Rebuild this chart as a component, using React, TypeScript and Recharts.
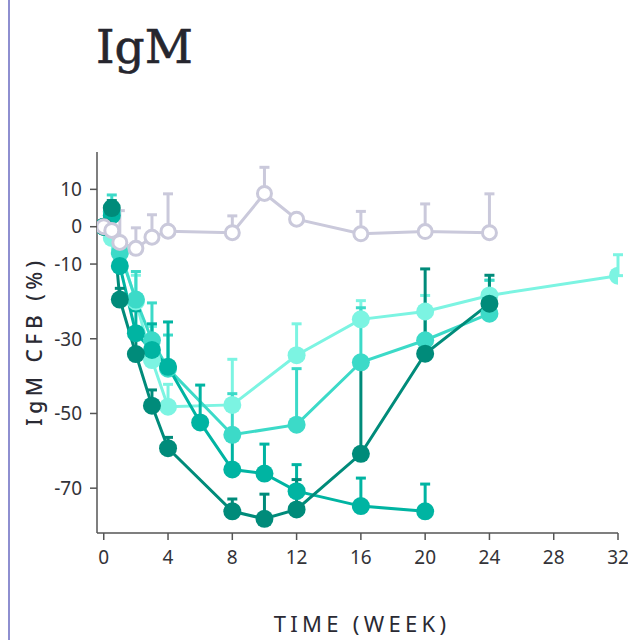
import { LineChart, Line, XAxis, YAxis, ErrorBar } from "recharts";

// weeks, mean CFB (%) and upper error for each cohort
const placeboWeeks = [0, 0.5, 1, 2, 3, 4, 8, 10, 12, 16, 20, 24];
const placeboValues = [0, -1, -4.2, -5.8, -2.8, -1.2, -1.6, 8.9, 2.0, -1.9, -1.3, -1.6];
const placeboErrors = [0, 6, 8.5, 5.5, 6, 10, 4.5, 7, 0, 6, 7.4, 10.4];

const lightWeeks = [0, 0.5, 1, 2, 3, 4, 8, 12, 16, 20, 24, 32];
const lightValues = [0, -3, -6, -20, -35.7, -48.2, -47.7, -34.4, -24.8, -22.7, -18.4, -13.1];
const lightErrors = [0, 2, 3, 7, 9, 6, 12.2, 8.4, 5, 4.3, 4, 5.6];

const turqWeeks = [0, 0.5, 1, 2, 3, 4, 8, 12, 16, 20, 24];
const turqValues = [0, 4, -7, -19.5, -30.4, -38, -55.7, -53, -36.3, -30.4, -23.3];
const turqErrors = [0, 4.5, 4, 7.5, 10, 9, 11, 15, 14.6, 8.4, 9];

const midWeeks = [0, 0.5, 1, 2, 3, 4, 6, 8, 10, 12, 16, 20];
const midValues = [0, 3, -10.5, -28.5, -33, -37.5, -52.4, -65, -66.1, -70.8, -74.8, -76.2];
const midErrors = [0, 3, 4, 6, 7, 12, 10, 9.3, 7.9, 7.1, 7.5, 7.3];

const darkWeeks = [0, 0.5, 1, 2, 3, 4, 8, 10, 12, 16, 20, 24];
const darkValues = [0, 5, -19.5, -34.1, -47.9, -59.3, -76.2, -78.2, -75.7, -60.8, -34, -20.6];
const darkErrors = [0, 2, 3, 5, 4.2, 2.9, 3.3, 6.6, 8, 25.3, 22.7, 7.6];

const xTicks = [0, 4, 8, 12, 16, 20, 24, 28, 32];
const yTicks = [10, 0, -10, -30, -50, -70];

const build = (weeks: number[], values: number[], errors: number[]) =>
  weeks.map((w, i) => ({ week: w, value: values[i], err: [0, errors[i]] }));

const series = [
  { name: "light", color: "#7cf4e2", data: build(lightWeeks, lightValues, lightErrors) },
  { name: "turq", color: "#3cdac8", data: build(turqWeeks, turqValues, turqErrors) },
  { name: "mid", color: "#00b4a2", data: build(midWeeks, midValues, midErrors) },
  { name: "dark", color: "#008b7a", data: build(darkWeeks, darkValues, darkErrors) },
];
const placebo = build(placeboWeeks, placeboValues, placeboErrors);

const tickStyle = { fontFamily: "Noto Sans", fontSize: 19, fill: "#333338" };

function App() {
  return (
    <div style={{ position: "absolute", left: 0, top: 0, width: 628, height: 640, background: "#fff" }}>
      <div style={{ position: "absolute", left: 8, top: 0, width: 2, height: 640, background: "#8e8fd0" }} />
      <div
        style={{
          position: "absolute",
          left: 96,
          top: 15,
          fontFamily: "DejaVu Serif",
          fontSize: 47,
          fontWeight: 500,
          color: "#26262e",
          lineHeight: "64px",
          WebkitTextStroke: "0.6px #26262e",
        }}
      >
        IgM
      </div>
      <LineChart width={628} height={640} margin={{ top: 152, right: 10, bottom: 77, left: 37 }}>
        <XAxis
          type="number"
          dataKey="week"
          domain={[-0.42, 32]}
          ticks={xTicks}
          allowDataOverflow
          height={30}
          tick={tickStyle}
          tickSize={7}
          tickMargin={11}
          stroke="#555"
          strokeWidth={1.5}
        />
        <YAxis
          type="number"
          dataKey="value"
          domain={[-82, 20]}
          ticks={yTicks}
          allowDataOverflow
          width={60}
          tick={tickStyle}
          tickSize={7}
          tickMargin={8}
          stroke="#555"
          strokeWidth={1.5}
        />
        {series.map((s) => (
          <Line
            key={s.name}
            data={s.data}
            dataKey="value"
            stroke={s.color}
            strokeWidth={3}
            dot={{ r: 9, fill: s.color, stroke: s.color, strokeWidth: 0 }}
            activeDot={false}
            isAnimationActive={false}
          >
            <ErrorBar dataKey="err" direction="y" width={5} strokeWidth={3} stroke={s.color} />
          </Line>
        ))}
        <Line
          data={placebo}
          dataKey="value"
          stroke="#cac9db"
          strokeWidth={3}
          dot={{ r: 7, fill: "#fff", stroke: "#cac9db", strokeWidth: 3 }}
          activeDot={false}
          isAnimationActive={false}
        >
          <ErrorBar dataKey="err" direction="y" width={5} strokeWidth={3} stroke="#cac9db" />
        </Line>
      </LineChart>
      <div
        style={{
          position: "absolute",
          left: 34,
          top: 341,
          transform: "translate(-50%, -50%) rotate(-90deg)",
          whiteSpace: "nowrap",
          fontFamily: "Noto Sans",
          fontSize: 21,
          fontWeight: 500,
          letterSpacing: 4.5,
          color: "#2a2a33",
        }}
      >
        IgM CFB (%)
      </div>
      <div
        style={{
          position: "absolute",
          left: 362,
          top: 623,
          transform: "translate(-50%, -50%)",
          whiteSpace: "nowrap",
          fontFamily: "Noto Sans",
          fontSize: 22,
          letterSpacing: 4.3,
          color: "#2a2a33",
        }}
      >
        TIME (WEEK)
      </div>
    </div>
  );
}

export default App;
